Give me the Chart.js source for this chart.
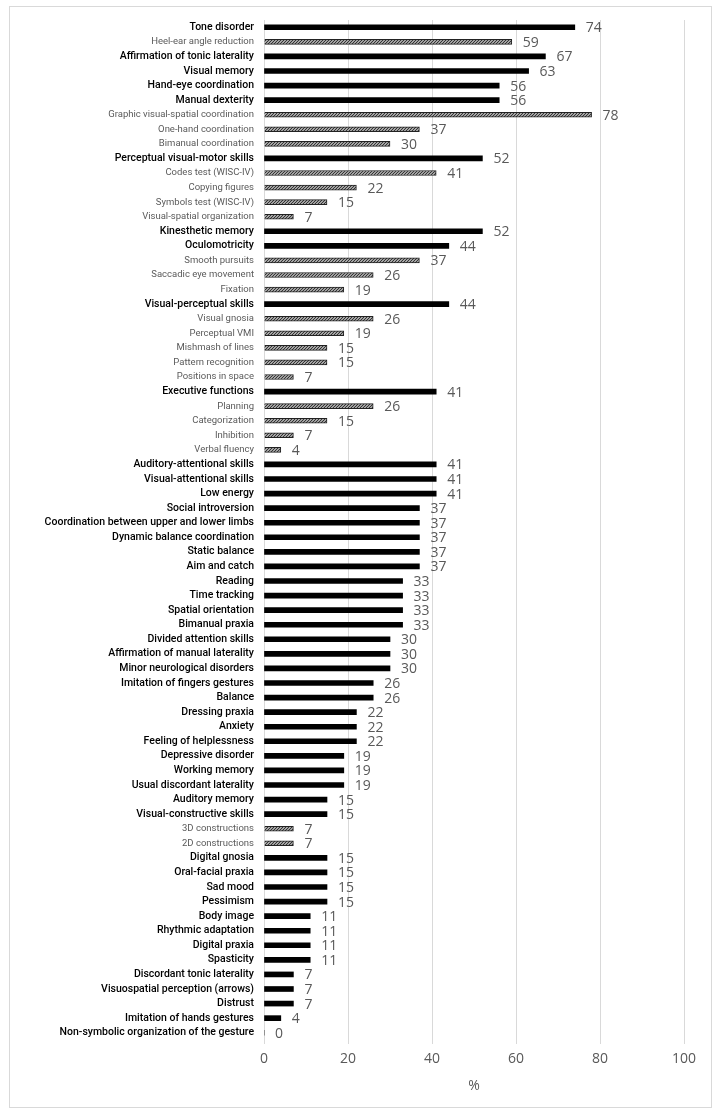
<!DOCTYPE html>
<html>
<head>
<meta charset="utf-8">
<script src="https://cdn.jsdelivr.net/npm/chart.js@4/dist/chart.umd.min.js"></script>
<style>
  html, body { margin: 0; padding: 0; background: #fff; }
  #wrap { width: 721px; height: 1118px; }
</style>
</head>
<body>
<div id="wrap"><canvas id="chart" width="721" height="1118"></canvas></div>
<script>
const labels = [
  'Tone disorder', 'Heel-ear angle reduction', 'Affirmation of tonic laterality', 'Visual memory',
  'Hand-eye coordination', 'Manual dexterity', 'Graphic visual-spatial coordination', 'One-hand coordination',
  'Bimanual coordination', 'Perceptual visual-motor skills', 'Codes test (WISC-IV)', 'Copying figures',
  'Symbols test (WISC-IV)', 'Visual-spatial organization', 'Kinesthetic memory', 'Oculomotricity',
  'Smooth pursuits', 'Saccadic eye movement', 'Fixation', 'Visual-perceptual skills',
  'Visual gnosia', 'Perceptual VMI', 'Mishmash of lines', 'Pattern recognition',
  'Positions in space', 'Executive functions', 'Planning', 'Categorization',
  'Inhibition', 'Verbal fluency', 'Auditory-attentional skills', 'Visual-attentional skills',
  'Low energy', 'Social introversion', 'Coordination between upper and lower limbs', 'Dynamic balance coordination',
  'Static balance', 'Aim and catch', 'Reading', 'Time tracking',
  'Spatial orientation', 'Bimanual praxia', 'Divided attention skills', 'Affirmation of manual laterality',
  'Minor neurological disorders', 'Imitation of fingers gestures', 'Balance', 'Dressing praxia',
  'Anxiety', 'Feeling of helplessness', 'Depressive disorder', 'Working memory',
  'Usual discordant laterality', 'Auditory memory', 'Visual-constructive skills', '3D constructions',
  '2D constructions', 'Digital gnosia', 'Oral-facial praxia', 'Sad mood',
  'Pessimism', 'Body image', 'Rhythmic adaptation', 'Digital praxia',
  'Spasticity', 'Discordant tonic laterality', 'Visuospatial perception (arrows)', 'Distrust',
  'Imitation of hands gestures', 'Non-symbolic organization of the gesture'
];

const values = [
  74, 59, 67, 63, 56, 56, 78, 37, 30, 52,
  41, 22, 15, 7, 52, 44, 37, 26, 19, 44,
  26, 19, 15, 15, 7, 41, 26, 15, 7, 4,
  41, 41, 41, 37, 37, 37, 37, 37, 33, 33,
  33, 33, 30, 30, 30, 26, 26, 22, 22, 22,
  19, 19, 19, 15, 15, 7, 7, 15, 15, 15,
  15, 11, 11, 11, 11, 7, 7, 7, 4, 0
];

// 1 = sub-item (hatched bar, small grey label), 0 = main item
const isSub = [
  0, 1, 0, 0, 0, 0, 1, 1, 1, 0,
  1, 1, 1, 1, 0, 0, 1, 1, 1, 0,
  1, 1, 1, 1, 1, 0, 1, 1, 1, 1,
  0, 0, 0, 0, 0, 0, 0, 0, 0, 0,
  0, 0, 0, 0, 0, 0, 0, 0, 0, 0,
  0, 0, 0, 0, 0, 1, 1, 0, 0, 0,
  0, 0, 0, 0, 0, 0, 0, 0, 0, 0
];

const xTicks = [0, 20, 40, 60, 80, 100];

// hatch pattern for sub-items
const pc = document.createElement('canvas');
pc.width = 3; pc.height = 3;
const px = pc.getContext('2d');
px.fillStyle = '#ffffff';
px.fillRect(0, 0, 3, 3);
px.strokeStyle = '#333';
px.lineWidth = 1.3;
px.beginPath();
px.moveTo(0, 3); px.lineTo(3, 0);
px.moveTo(-1, 1); px.lineTo(1, -1);
px.moveTo(2, 4); px.lineTo(4, 2);
px.stroke();
const hatch = document.getElementById('chart').getContext('2d').createPattern(pc, 'repeat');

const valueLabels = {
  id: 'valueLabels',
  afterDatasetsDraw(chart) {
    const ctx = chart.ctx;
    const meta = chart.getDatasetMeta(0);
    ctx.save();
    ctx.font = '14px "Open Sans"';
    ctx.fillStyle = '#595959';
    ctx.textAlign = 'left';
    ctx.textBaseline = 'middle';
    meta.data.forEach((bar, i) => {
      ctx.fillText(values[i], bar.x + 11, bar.y + 1);
    });
    ctx.restore();
  }
};

const frame = {
  id: 'frame',
  beforeDraw(chart) {
    const ctx = chart.ctx;
    ctx.save();
    ctx.fillStyle = '#fff';
    ctx.fillRect(0, 0, chart.width, chart.height);
    ctx.strokeStyle = '#d9d9d9';
    ctx.lineWidth = 1;
    ctx.strokeRect(9.5, 6.5, 702, 1101);
    ctx.restore();
  }
};

new Chart(document.getElementById('chart'), {
  type: 'bar',
  data: {
    labels: labels,
    datasets: [{
      data: values,
      backgroundColor: (c) => isSub[c.dataIndex] ? hatch : '#000000',
      borderColor: '#222222',
      borderWidth: (c) => isSub[c.dataIndex] ? 1 : 0,
      barThickness: 5
    }]
  },
  options: {
    indexAxis: 'y',
    responsive: false,
    animation: false,
    layout: { padding: { left: 10, right: 37, top: 20, bottom: 20 } },
    plugins: {
      legend: { display: false },
      tooltip: { enabled: false }
    },
    scales: {
      x: {
        min: 0,
        max: 100,
        afterBuildTicks: (s) => { s.ticks = xTicks.map(v => ({ value: v })); },
        afterFit: (s) => { s.height = 58; },
        grid: { color: '#d9d9d9', tickLength: 4 },
        border: { display: false },
        ticks: {
          color: '#595959',
          font: { family: '"Open Sans"', size: 14 },
          padding: 7
        },
        title: {
          display: true,
          text: '%',
          color: '#595959',
          font: { family: '"Open Sans"', size: 14 },
          padding: { top: 4, bottom: 4 }
        }
      },
      y: {
        afterFit: (s) => { s.width = 254; },
        grid: { display: false, drawTicks: false },
        border: { display: false },
        ticks: {
          autoSkip: false,
          padding: 10,
          color: (c) => isSub[c.index] ? '#5a5a5a' : '#000000',
          font: (c) => isSub[c.index]
            ? { family: 'Roboto', size: 9.5 }
            : { family: 'Roboto', size: 10.5, weight: '500' }
        }
      }
    }
  },
  plugins: [frame, valueLabels]
});
</script>
</body>
</html>
